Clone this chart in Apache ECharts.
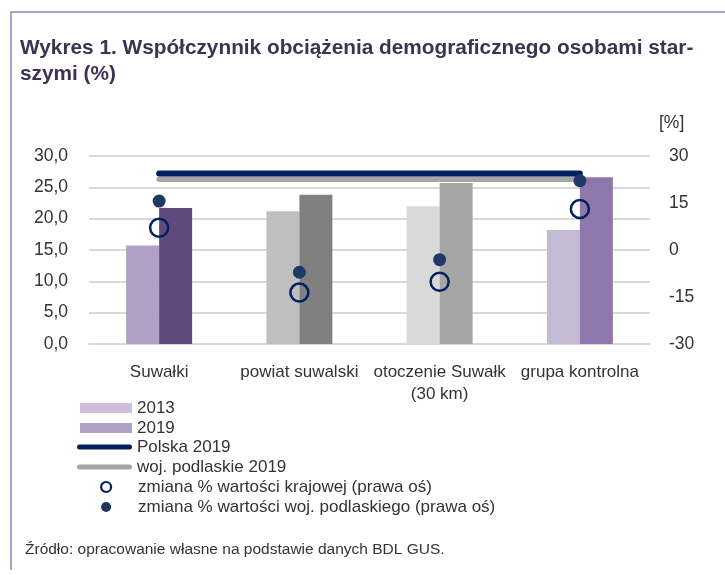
<!DOCTYPE html>
<html>
<head>
<meta charset="utf-8">
<script src="https://cdn.jsdelivr.net/npm/echarts@6/dist/echarts.min.js"></script>
<style>
html, body { margin: 0; padding: 0; background: #fff; }
#chart { width: 725px; height: 575px; }
</style>
</head>
<body>
<div id="chart"></div>
<script>
// dane
var kategorie = ['Suwałki', 'powiat suwalski', 'otoczenie Suwałk\n(30 km)', 'grupa kontrolna'];
var wart2013 = [15.7, 21.2, 22.0, 18.2];
var wart2019 = [21.7, 23.8, 25.7, 26.6];
var polska2019 = [27.2, 27.2, 27.2, 27.2];
var podlaskie2019 = [26.3, 26.3, 26.3, 26.3];
var zmianaKraj = [7.1, -13.6, -10.1, 13.1];
var zmianaWoj = [15.6, -7.1, -3.1, 22.1];

// kolory słupków dla każdej kategorii
var kolory2013 = ['#b1a0c7', '#bfbfbf', '#d9d9d9', '#c4bad2'];
var kolory2019 = ['#604a7b', '#808080', '#a6a6a6', '#8e77ab'];

var font = "'Liberation Sans', Arial, sans-serif";
var txt = '#333333';
var ikonaLinii = 'path://M2.5,0 L52.5,0 A2.5,2.5 0 0 1 52.5,5 L2.5,5 A2.5,2.5 0 0 1 2.5,0 Z';

var myChart = echarts.init(document.getElementById('chart'));

var option = {
    animation: false,
    textStyle: { fontFamily: font },
    title: [
        {
            text: 'Wykres 1. Współczynnik obciążenia demograficznego osobami star-\nszymi (%)',
            left: 15, top: 30,
            textStyle: { fontFamily: font, fontSize: 20.8, fontWeight: 'bold', color: '#3f3151', lineHeight: 26 }
        },
        {
            text: 'Źródło: opracowanie własne na podstawie danych BDL GUS.',
            left: 20, top: 537,
            textStyle: { fontFamily: font, fontSize: 15.5, fontWeight: 'normal', color: txt }
        }
    ],
    graphic: [
        { type: 'line', shape: { x1: 10, y1: 12, x2: 725, y2: 12 }, style: { stroke: '#b1a0c7', lineWidth: 2 } },
        { type: 'line', shape: { x1: 11, y1: 12, x2: 11, y2: 570 }, style: { stroke: '#b1a0c7', lineWidth: 2 } }
    ],
    grid: { left: 89, right: 75, top: 156, bottom: 231 },
    legend: [
        {
            orient: 'vertical', left: 80, top: 398, padding: 0, itemWidth: 52, itemHeight: 10, itemGap: 0,
            textStyle: { fontSize: 17, color: txt, lineHeight: 20 },
            selectedMode: false,
            data: [
                { name: '2013', icon: 'rect', itemStyle: { color: '#ccc0da' } },
                { name: '2019', icon: 'rect', itemStyle: { color: '#b1a0c7' } }
            ]
        },
        {
            orient: 'vertical', left: 77, top: 437, padding: 0, itemWidth: 55, itemHeight: 5, itemGap: 0,
            textStyle: { fontSize: 17, color: txt, lineHeight: 20 },
            selectedMode: false,
            data: [
                { name: 'Polska 2019', icon: ikonaLinii, itemStyle: { color: '#002060' } },
                { name: 'woj. podlaskie 2019', icon: ikonaLinii, itemStyle: { color: '#a6a6a6' } }
            ]
        },
        {
            orient: 'vertical', left: 100, top: 477, padding: 0, itemWidth: 10, itemHeight: 10, itemGap: 0,
            textStyle: { fontSize: 17, color: txt, lineHeight: 20, padding: [0, 0, 0, 22] },
            selectedMode: false,
            data: [
                { name: 'zmiana % wartości krajowej (prawa oś)', icon: 'circle', itemStyle: { color: '#ffffff', borderColor: '#002060', borderWidth: 2.2, opacity: 1 } },
                { name: 'zmiana % wartości woj. podlaskiego (prawa oś)', icon: 'circle', itemStyle: { color: '#1f3864', borderWidth: 0, opacity: 1 } }
            ]
        }
    ],
    xAxis: {
        type: 'category',
        data: kategorie,
        axisLine: { lineStyle: { color: '#d9d9d9', width: 2 } },
        axisTick: { show: false },
        axisLabel: { interval: 0, fontSize: 17, color: txt, margin: 17, lineHeight: 22 }
    },
    yAxis: [
        {
            type: 'value', min: 0, max: 30, interval: 5,
            axisLabel: {
                fontSize: 17.5, color: txt, margin: 21,
                formatter: function (v) { return v.toFixed(1).replace('.', ','); }
            },
            splitLine: { lineStyle: { color: '#d9d9d9', width: 2 } }
        },
        {
            type: 'value', min: -30, max: 30, interval: 15,
            name: '[%]', nameLocation: 'end', nameGap: 24,
            nameTextStyle: { fontSize: 17.5, color: txt, align: 'left', padding: [0, 0, 0, 9] },
            axisLabel: { fontSize: 17.5, color: txt, margin: 19 },
            splitLine: { show: false }
        }
    ],
    series: [
        {
            name: '2013', type: 'bar', barWidth: 33, barGap: '0%',
            data: wart2013.map(function (v, i) { return { value: v, itemStyle: { color: kolory2013[i] } }; })
        },
        {
            name: '2019', type: 'bar', barWidth: 33, barGap: '0%',
            data: wart2019.map(function (v, i) { return { value: v, itemStyle: { color: kolory2019[i] } }; })
        },
        {
            name: 'woj. podlaskie 2019', type: 'line', data: podlaskie2019, symbol: 'none', z: 3,
            lineStyle: { color: '#a6a6a6', width: 5.5, cap: 'round' }, itemStyle: { color: '#a6a6a6' }
        },
        {
            name: 'Polska 2019', type: 'line', data: polska2019, symbol: 'none', z: 4,
            lineStyle: { color: '#002060', width: 6, cap: 'round' }, itemStyle: { color: '#002060' }
        },
        {
            name: 'zmiana % wartości krajowej (prawa oś)', type: 'scatter', yAxisIndex: 1, z: 5,
            data: zmianaKraj, symbol: 'circle', symbolSize: 18,
            itemStyle: { color: 'rgba(255,255,255,0)', borderColor: '#002060', borderWidth: 2.5, opacity: 1 }
        },
        {
            name: 'zmiana % wartości woj. podlaskiego (prawa oś)', type: 'scatter', yAxisIndex: 1, z: 6,
            data: zmianaWoj, symbol: 'circle', symbolSize: 13,
            itemStyle: { color: '#1f3864', opacity: 1 }
        }
    ]
};

myChart.setOption(option);
</script>
</body>
</html>
